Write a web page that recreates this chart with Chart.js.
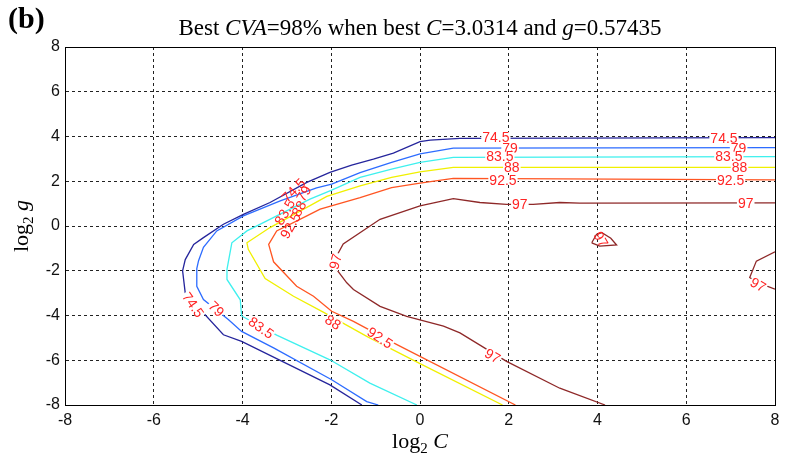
<!DOCTYPE html>
<html>
<head>
<meta charset="utf-8">
<script src="https://cdn.jsdelivr.net/npm/chart.js@4/dist/chart.umd.min.js"></script>
<style>
  body { margin: 0; background: #fff; }
  #wrap { width: 793px; height: 461px; position: relative; }
</style>
</head>
<body>
<div id="wrap"><canvas id="chart"></canvas></div>
<script>
// contour levels (CVA %) and tick values
const levels = [74.5, 79, 83.5, 88, 92.5, 97];
const axisTicks = [-8, -6, -4, -2, 0, 2, 4, 6, 8];

// contour paths: x = log2 C, y = log2 g
const c745x = [-1.31, -2.03, -4.02, -4.43, -5.29, -5.35, -5.29, -5.10, -4.88, -4.43, -3.98, -3.38, -2.55, -2.03, -1.54, -1.05, -0.60, 0.00, 0.23, 0.90, 8.00];
const c745y = [-8.00, -7.10, -5.16, -4.86, -3.00, -2.00, -1.50, -0.82, -0.52, 0.08, 0.52, 1.05, 1.95, 2.40, 2.72, 2.99, 3.26, 3.77, 3.84, 3.92, 3.95];

const c79x = [-0.94, -1.20, -1.99, -3.30, -4.02, -4.32, -4.88, -5.03, -5.03, -4.99, -4.88, -4.58, -3.98, -3.15, -2.33, -1.99, -1.35, -0.64, 0.00, 0.75, 8.00];
const c79y = [-8.00, -7.85, -6.87, -5.45, -4.71, -4.18, -3.29, -2.70, -1.90, -1.55, -0.95, -0.22, 0.45, 1.12, 1.70, 1.87, 2.39, 2.84, 3.22, 3.48, 3.50];

const c835x = [-0.07, -1.13, -2.03, -3.23, -4.02, -4.05, -4.35, -4.35, -4.24, -3.90, -3.53, -2.48, -1.99, -1.35, -0.64, 0.00, 0.75, 8.00];
const c835y = [-8.00, -7.02, -5.98, -4.88, -4.02, -3.30, -2.39, -1.94, -0.75, -0.22, 0.15, 1.20, 1.60, 2.17, 2.54, 2.84, 3.07, 3.10];

const c88x = [1.86, 0.00, -1.20, -2.18, -2.85, -3.49, -3.87, -3.90, -3.38, -2.10, -1.35, -0.64, 0.00, 0.75, 8.00];
const c88y = [-8.00, -6.15, -4.93, -3.85, -3.14, -2.35, -1.04, -0.75, -0.07, 1.32, 1.79, 2.17, 2.42, 2.62, 2.62];

const c925x = [2.15, -0.52, -1.50, -1.99, -2.40, -2.78, -3.30, -3.41, -3.23, -2.55, -2.25, -1.35, -0.64, 0.00, 0.75, 8.00];
const c925y = [-8.00, -5.30, -4.26, -3.81, -3.14, -2.69, -1.60, -0.82, -0.22, 0.45, 0.75, 1.27, 1.72, 1.92, 2.13, 2.06];

const c97x = [4.17, 3.15, 1.95, 0.90, 0.53, -0.30, -0.90, -1.50, -1.65, -1.88, -1.95, -1.73, -0.90, 0.00, 0.75, 1.35, 1.95, 2.55, 3.15, 3.60, 8.00];
const c97y = [-8.00, -7.25, -6.05, -4.78, -4.48, -4.04, -3.59, -2.84, -2.54, -1.94, -1.60, -0.80, 0.30, 0.90, 1.22, 1.05, 0.97, 0.97, 1.05, 1.02, 1.03];
const c97loopX = [3.87, 3.98, 4.10, 4.30, 4.43, 4.05, 3.87];
const c97loopY = [-0.75, -0.37, -0.30, -0.55, -0.85, -0.90, -0.75];
const c97edgeX = [8.00, 7.58, 7.43, 7.60, 8.00];
const c97edgeY = [-1.15, -1.57, -2.30, -2.52, -2.82];

// inline contour labels
const labelText = ['74.5', '74.5', '79', '79', '83.5', '83.5', '88', '88', '92.5', '92.5', '97', '97',
                   '74.5', '79', '83.5', '88', '92.5', '97',
                   '74.5', '79', '83.5', '88', '92.5', '97', '97', '97'];
const labelX = [1.71, 6.85, 2.03, 7.18, 1.80, 6.96, 2.07, 7.20, 1.87, 7.00, 2.25, 7.34,
                -2.85, -2.62, -3.05, -2.73, -2.92, -1.91,
                -5.11, -4.59, -3.58, -1.96, -0.90, 1.64, 4.08, 7.62];
const labelY = [3.98, 3.93, 3.50, 3.50, 3.10, 3.10, 2.62, 2.62, 2.06, 2.06, 0.97, 1.03,
                1.60, 1.45, 0.62, 0.78, 0.02, -1.59,
                -3.52, -3.70, -4.54, -4.30, -4.99, -5.80, -0.60, -2.62];
const labelAngle = [0, 0, 0, 0, 0, 0, 0, 0, 0, 0, 0, 0,
                    -45, -60, -60, -60, -60, -75,
                    55, 45, 35, 33, 33, 30, 60, 30];
const labelGap = [1, 1, 1, 1, 1, 1, 1, 1, 1, 1, 1, 1,
                  0, 0, 0, 0, 0, 1,
                  1, 1, 1, 1, 1, 1, 0, 1];

const lineColors = ['#25259c', '#2d6cff', '#3ef0ee', '#f0f000', '#ff5522', '#8e2828'];

const pts = (xs, ys) => xs.map((v, i) => ({ x: v, y: ys[i] }));

const paths = [
  [c745x, c745y, 0], [c79x, c79y, 1], [c835x, c835y, 2], [c88x, c88y, 3], [c925x, c925y, 4],
  [c97x, c97y, 5], [c97loopX, c97loopY, 5], [c97edgeX, c97edgeY, 5]
];

const datasets = paths.map(([xs, ys, k]) => ({
  label: String(levels[k]),
  data: pts(xs, ys),
  showLine: true,
  borderColor: lineColors[k],
  borderWidth: 1.3,
  pointRadius: 0,
  fill: false,
  tension: 0
}));

const serif = '"Liberation Serif", "Times New Roman", serif';
const sans = '"Liberation Sans", Arial, Helvetica, sans-serif';

// draw a line of text made of several font runs
function drawRich(ctx, parts, x, y) {
  let total = 0;
  parts.forEach(p => { ctx.font = p.font; p.w = ctx.measureText(p.text).width; total += p.w; });
  let cx = x - total / 2;
  parts.forEach(p => {
    ctx.font = p.font;
    ctx.fillText(p.text, cx, y + (p.dy || 0));
    cx += p.w;
  });
}

const contourLabels = {
  id: 'contourLabels',
  afterDatasetsDraw(chart) {
    const { ctx, scales: { x, y } } = chart;
    ctx.save();
    ctx.font = '14px ' + sans;
    ctx.textAlign = 'center';
    ctx.textBaseline = 'middle';
    labelText.forEach((t, i) => {
      ctx.save();
      ctx.translate(x.getPixelForValue(labelX[i]), y.getPixelForValue(labelY[i]));
      ctx.rotate(labelAngle[i] * Math.PI / 180);
      if (labelGap[i]) {
        const w = ctx.measureText(t).width;
        ctx.fillStyle = '#fff';
        ctx.fillRect(-w / 2 - 1, -5, w + 2, 10);
      }
      ctx.fillStyle = '#ff2424';
      ctx.fillText(t, 0, 1);
      ctx.restore();
    });
    ctx.restore();
  }
};

const frameAndText = {
  id: 'frameAndText',
  afterDraw(chart) {
    const { ctx, chartArea: a } = chart;
    ctx.save();
    ctx.strokeStyle = '#000';
    ctx.lineWidth = 1;
    ctx.strokeRect(Math.round(a.left) + 0.5, Math.round(a.top) + 0.5,
                   Math.round(a.right - a.left), Math.round(a.bottom - a.top));

    ctx.fillStyle = '#000';
    ctx.textAlign = 'left';
    ctx.textBaseline = 'alphabetic';
    ctx.font = 'bold 30px ' + serif;
    ctx.fillText('(b)', 8, 28);

    const n = '23px ' + serif, it = 'italic 23px ' + serif;
    drawRich(ctx, [
      { text: 'Best ', font: n }, { text: 'CVA', font: it }, { text: '=98% when best ', font: n },
      { text: 'C', font: it }, { text: '=3.0314 and ', font: n }, { text: 'g', font: it },
      { text: '=0.57435', font: n }
    ], (a.left + a.right) / 2, 35);

    const n2 = '22px ' + serif, it2 = 'italic 22px ' + serif, sub = '15px ' + serif;
    drawRich(ctx, [
      { text: 'log', font: n2 }, { text: '2', font: sub, dy: 5 }, { text: ' ', font: n2 }, { text: 'C', font: it2 }
    ], (a.left + a.right) / 2, 448);

    ctx.save();
    ctx.translate(28, (a.top + a.bottom) / 2);
    ctx.rotate(-Math.PI / 2);
    drawRich(ctx, [
      { text: 'log', font: n2 }, { text: '2', font: sub, dy: 5 }, { text: ' ', font: n2 }, { text: 'g', font: it2 }
    ], 0, 0);
    ctx.restore();
    ctx.restore();
  }
};

const axisOpts = (fit) => ({
  type: 'linear',
  min: -8,
  max: 8,
  afterBuildTicks: (s) => { s.ticks = axisTicks.map(v => ({ value: v })); },
  ticks: { color: '#111', font: { family: sans, size: 16 } },
  grid: { color: '#222', lineWidth: 1, drawTicks: false },
  border: { color: '#000', dash: [3, 3] },
  afterFit: fit
});

const xAxis = axisOpts((s) => { s.height = 56; });
xAxis.ticks.padding = 6;
const yAxis = axisOpts((s) => { s.width = 65; });
yAxis.ticks.padding = 5;

new Chart(document.getElementById('chart'), {
  type: 'scatter',
  data: { datasets },
  options: {
    responsive: true,
    maintainAspectRatio: false,
    animation: false,
    layout: { padding: { top: 47, right: 18, left: 0, bottom: 0 } },
    plugins: { legend: { display: false }, tooltip: { enabled: false } },
    scales: { x: xAxis, y: yAxis }
  },
  plugins: [contourLabels, frameAndText]
});
</script>
</body>
</html>
